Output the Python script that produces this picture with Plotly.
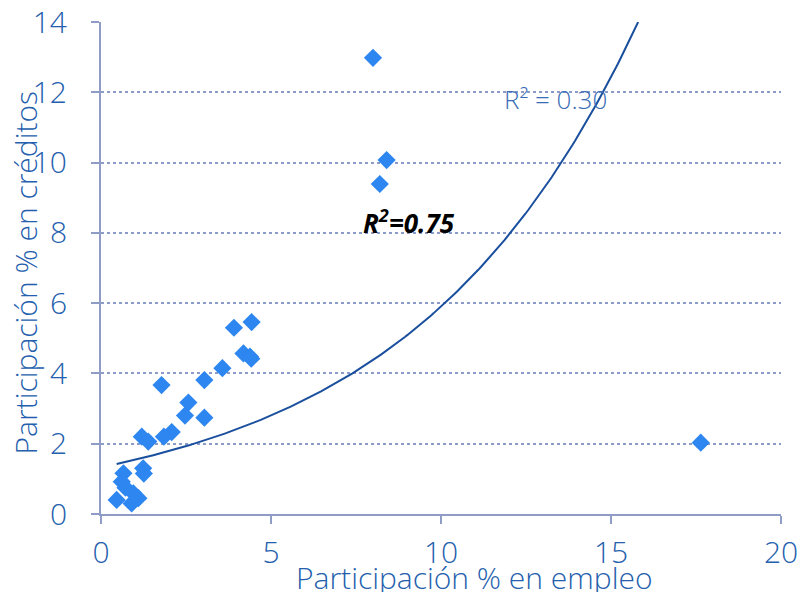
import numpy as np
import plotly.graph_objects as go

# Participación % en empleo (x) vs participación % en créditos (y)
empleo = [8.0, 8.4, 8.2, 17.64, 4.43, 3.91, 4.19, 4.38, 4.42, 3.57, 3.04, 1.78,
          2.57, 2.47, 3.04, 2.08, 1.85, 1.20, 1.39, 1.24, 1.26, 0.66, 0.61, 0.46,
          0.95, 1.10, 0.90, 0.72]
creditos = [12.98, 10.07, 9.39, 2.03, 5.46, 5.30, 4.57, 4.48, 4.42, 4.15, 3.81, 3.67,
            3.17, 2.80, 2.74, 2.33, 2.20, 2.20, 2.06, 1.30, 1.15, 1.16, 0.92, 0.40,
            0.59, 0.45, 0.30, 0.75]

# Exponential trendline y = a * exp(b * x)
TREND_A = 1.33
TREND_B = 0.149
TREND_X_START = 0.46

x_ticks = [0, 5, 10, 15, 20]
y_ticks = [0, 2, 4, 6, 8, 10, 12, 14]

AXIS_COLOR = "#8f9cc6"
TEXT_COLOR = "#2460ad"
MARKER_COLOR = "#2e86f0"
LINE_COLOR = "#1a4f9e"
FONT = "Open Sans"

x_end = np.log(14 / TREND_A) / TREND_B
tx = np.linspace(TREND_X_START, x_end, 200)
ty = TREND_A * np.exp(TREND_B * tx)

fig = go.Figure()
fig.add_trace(go.Scatter(
    x=tx, y=ty, mode="lines",
    line=dict(color=LINE_COLOR, width=2),
    hoverinfo="skip", showlegend=False,
))
fig.add_trace(go.Scatter(
    x=empleo, y=creditos, mode="markers",
    marker=dict(symbol="diamond", size=14, color=MARKER_COLOR, line=dict(width=0)),
    showlegend=False,
))

fig.update_layout(
    width=805, height=592,
    margin=dict(l=101, r=24, t=22, b=78),
    paper_bgcolor="white", plot_bgcolor="white",
    font=dict(family=FONT, color=TEXT_COLOR),
)
fig.update_xaxes(
    range=[0, 20], tickvals=x_ticks, ticktext=[str(v) for v in x_ticks],
    showgrid=False, zeroline=False, automargin=False,
    showline=True, linecolor=AXIS_COLOR, linewidth=2,
    ticks="outside", ticklen=8, tickwidth=2, tickcolor=AXIS_COLOR,
    tickfont=dict(size=30, color=TEXT_COLOR, family=FONT, weight=300),
    ticklabelstandoff=3,
)
fig.update_yaxes(
    range=[0, 14], tickvals=y_ticks, ticktext=[str(v) for v in y_ticks],
    showgrid=True, gridcolor="#8c9cc8", griddash="dot", gridwidth=1.5,
    zeroline=False, automargin=False,
    showline=True, linecolor=AXIS_COLOR, linewidth=2,
    ticks="outside", ticklen=8, tickwidth=2, tickcolor=AXIS_COLOR,
    tickfont=dict(size=30, color=TEXT_COLOR, family=FONT, weight=300),
    ticklabelstandoff=18,
)

fig.add_annotation(
    text="Participación % en empleo", xref="paper", yref="paper",
    x=0.549, y=-0.13, xanchor="center", yanchor="middle", showarrow=False,
    font=dict(size=30, color=TEXT_COLOR, family=FONT, weight=300),
)
fig.add_annotation(
    text="Participación % en créditos", xref="paper", yref="paper",
    x=-0.111, y=0.49, xanchor="center", yanchor="middle", textangle=-90,
    showarrow=False,
    font=dict(size=30, color=TEXT_COLOR, family=FONT, weight=300),
)
fig.add_annotation(
    text="R² = 0.30", xref="x", yref="y", x=11.8, y=11.8,
    xanchor="left", yanchor="middle", showarrow=False,
    font=dict(size=26, color="#3a6db5", family=FONT, weight=300),
)
fig.add_annotation(
    text="<b><i>R<sup>2</sup>=0.75</i></b>", xref="x", yref="y", x=7.65, y=8.3,
    xanchor="left", yanchor="middle", showarrow=False,
    font=dict(size=26, color="black", family=FONT),
)

fig.write_html("out.html")
